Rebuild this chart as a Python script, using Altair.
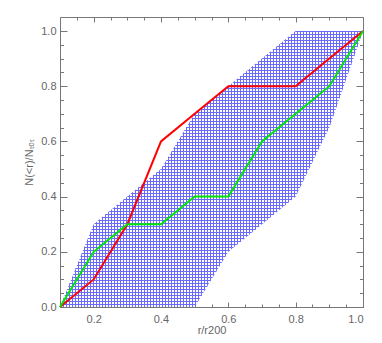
import altair as alt
import pandas as pd

# ---- data ----
r_vals = [0.1, 0.2, 0.3, 0.4, 0.5, 0.6, 0.7, 0.8, 0.9, 1.0]
red_frac = [0.0, 0.1, 0.3, 0.6, 0.7, 0.8, 0.8, 0.8, 0.9, 1.0]
green_frac = [0.0, 0.2, 0.3, 0.3, 0.4, 0.4, 0.6, 0.7, 0.8, 1.0]
band_hi = [0.0, 0.3, 0.4, 0.5, 0.7, 0.8, 0.9, 1.0, 1.0, 1.0]
band_lo = [0.0, 0.0, 0.0, 0.0, 0.0, 0.2, 0.3, 0.4, 0.65, 1.0]

x_major = [0.2, 0.4, 0.6, 0.8, 1.0]
x_minor = [0.15, 0.2, 0.25, 0.3, 0.35, 0.4, 0.45, 0.5, 0.55, 0.6, 0.65,
           0.7, 0.75, 0.8, 0.85, 0.9, 0.95]
y_major = [0.0, 0.2, 0.4, 0.6, 0.8, 1.0]
y_minor = [0.05, 0.1, 0.15, 0.2, 0.25, 0.3, 0.35, 0.4, 0.45, 0.5, 0.55, 0.6,
           0.65, 0.7, 0.75, 0.8, 0.85, 0.9, 0.95, 1.0]

df = pd.DataFrame({"r": r_vals, "red": red_frac, "green": green_frac,
                   "hi": band_hi, "lo": band_lo})

W, H = 303, 290
GRAY = "#777777"
TXT = "#666666"
FONT = "Liberation Sans"

xs = alt.Scale(domain=[0.1, 1.0], nice=False, zero=False)
ys = alt.Scale(domain=[0.0, 290 / 276], nice=False, zero=False)


# ---- hatch via striped gradients (3 px period) ----
def stripes(n, on, off, x1, y1, x2, y2):
    stops = []
    for k in range(n):
        a = k / n
        b = (k + 1 / 3) / n
        c = (k + 1) / n
        stops += [alt.GradientStop(offset=a, color=on),
                  alt.GradientStop(offset=b, color=on),
                  alt.GradientStop(offset=b, color=off),
                  alt.GradientStop(offset=c, color=off)]
    return alt.LinearGradient(gradient="linear", stops=stops,
                              x1=x1, y1=y1, x2=x2, y2=y2)


HATCH = "#6a6aff"
hatchA = stripes(101, HATCH, "#ffffff", 0, 0, 1, 0)
hatchB = stripes(92, HATCH, "rgba(255,255,255,0)", 0, 0, 0, 1)


def tick_axis(orient, values, size):
    return alt.Axis(orient=orient, offset=-(H if orient in ("top", "bottom") else W),
                    values=values, labels=False, domain=False, grid=False,
                    ticks=True, tickSize=size, tickColor=GRAY, tickWidth=1,
                    title=None)


x_label_axis = alt.Axis(orient="bottom", values=x_major, format=".1f", ticks=False,
                        domain=False, grid=False, labelPadding=6, labelFont=FONT,
                        labelFontSize=11, labelColor=TXT, title="r/r200",
                        titleFont=FONT, titleFontSize=11, titleFontWeight="normal",
                        titleColor=TXT, titleX=W / 2, titleY=23,
                        titleBaseline="middle", titleAlign="center")
y_label_axis = alt.Axis(orient="left", values=y_major, format=".1f", ticks=False,
                        domain=False, grid=False, labelPadding=4, labelFont=FONT,
                        labelFontSize=11, labelColor=TXT, title="N(<r)/Nₜₒₜ",
                        titleFont=FONT, titleFontSize=11, titleFontWeight="normal",
                        titleColor=TXT, titleX=-31, titleY=H / 2, titleAngle=270,
                        titleBaseline="middle", titleAlign="center")

base = alt.Chart(df)

band1 = base.mark_area(fill=hatchA).encode(
    x=alt.X("r:Q", scale=xs, axis=x_label_axis),
    y=alt.Y("hi:Q", scale=ys, axis=y_label_axis),
    y2="lo:Q",
)
band2 = base.mark_area(fill=hatchB).encode(
    x=alt.X("r:Q", scale=xs, axis=tick_axis("top", x_major, 5)),
    y=alt.Y("hi:Q", scale=ys, axis=tick_axis("right", y_major, 7)),
    y2="lo:Q",
)
red = base.mark_line(color="#ff0000", strokeWidth=2).encode(
    x=alt.X("r:Q", scale=xs, axis=tick_axis("top", x_minor, 3)),
    y=alt.Y("red:Q", scale=ys, axis=tick_axis("right", y_minor, 3.5)),
)
green = base.mark_line(color="#00e600", strokeWidth=2).encode(
    x=alt.X("r:Q", scale=xs, axis=tick_axis("bottom", x_major, 5)),
    y=alt.Y("green:Q", scale=ys, axis=tick_axis("left", y_major, 7)),
)
ghost = base.mark_line(opacity=0).encode(
    x=alt.X("r:Q", scale=xs, axis=tick_axis("bottom", x_minor, 3)),
    y=alt.Y("green:Q", scale=ys, axis=tick_axis("left", y_minor, 3.5)),
)

chart = alt.layer(band1, band2, red, green, ghost).resolve_axis(
    x="independent", y="independent"
).properties(
    width=W, height=H,
    autosize=alt.AutoSizeParams(type="none"),
    padding={"left": 52, "top": 9, "right": 8, "bottom": 34},
    background="white",
).configure_view(stroke=GRAY, strokeWidth=1)

chart.save("out.html", embed_options={"renderer": "svg", "actions": False})
